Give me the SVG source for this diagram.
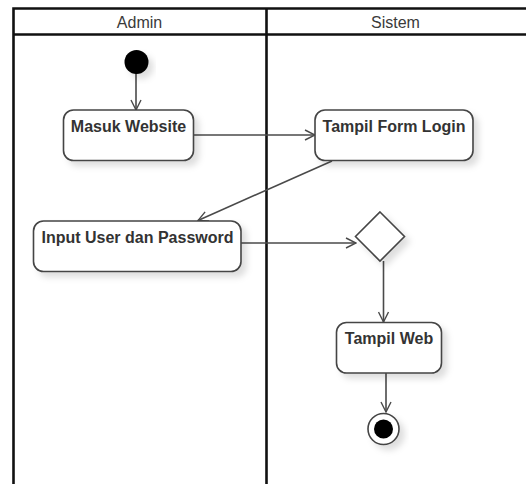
<svg xmlns="http://www.w3.org/2000/svg" width="526" height="484" viewBox="0 0 526 484">
<style>
.frame{fill:none;stroke:#111;stroke-width:2.6}
.lbl{font-family:"Liberation Sans",Arial,sans-serif;font-size:16px;fill:#3a3a3a;text-anchor:middle}
.act{fill:#fff;stroke:#444;stroke-width:1.6}
.txt{font-family:"Liberation Sans",Arial,sans-serif;font-size:16px;font-weight:bold;fill:#333;text-anchor:middle}
.edge{fill:none;stroke:#4a4a4a;stroke-width:1.6;marker-end:url(#arr)}
</style>
<defs>
<marker id="arr" viewBox="0 0 12 12" refX="11" refY="6" markerWidth="12" markerHeight="12" markerUnits="userSpaceOnUse" orient="auto">
<path d="M1,1 L11,6 L1,11" fill="none" stroke="#4a4a4a" stroke-width="1.4"/>
</marker>
<filter id="sh" x="-20%" y="-20%" width="150%" height="160%">
<feDropShadow dx="5" dy="5" stdDeviation="3" flood-color="#000" flood-opacity="0.13"/>
</filter>
</defs>
<rect width="526" height="484" fill="#fff"/>
<g id="swimlanes">
<path class="frame" d="M13.5,484 V8.5 H526 M13.5,34.5 H526 M266.5,8.5 V484"/>
<text class="lbl" x="139.5" y="28">Admin</text>
<text class="lbl" x="395.5" y="28">Sistem</text>
</g>
<g id="connectors">
<path class="edge" d="M136,72 V110"/>
<path class="edge" d="M193,135 H315"/>
<path class="edge" d="M332,161 L198,220.5"/>
<path class="edge" d="M241,243 H356"/>
<path class="edge" d="M383.5,261 V322"/>
<path class="edge" d="M386,373 V412"/>
</g>
<g id="start">
<circle cx="136.5" cy="62" r="12" fill="#000" filter="url(#sh)"/>
</g>
<g id="masuk-website">
<rect class="act" x="63.5" y="110" width="130" height="50.5" rx="10" filter="url(#sh)"/>
<text class="txt" x="128.5" y="132">Masuk Website</text>
</g>
<g id="tampil-form-login">
<rect class="act" x="315" y="110" width="158" height="50.5" rx="10" filter="url(#sh)"/>
<text class="txt" x="394" y="132">Tampil Form Login</text>
</g>
<g id="input-user">
<rect class="act" x="33.5" y="221" width="207.5" height="50.5" rx="10" filter="url(#sh)"/>
<text class="txt" x="137.5" y="243">Input User dan Password</text>
</g>
<g id="decision">
<path class="act" d="M380,212 L404.5,236.5 L380,261 L355.5,236.5 Z" filter="url(#sh)"/>
</g>
<g id="tampil-web">
<rect class="act" x="336.5" y="322.5" width="105" height="50.5" rx="10" filter="url(#sh)"/>
<text class="txt" x="389" y="344">Tampil Web</text>
</g>
<g id="end">
<circle cx="383.5" cy="429" r="15.5" fill="#fff" stroke="#444" stroke-width="1.6" filter="url(#sh)"/>
<circle cx="383.5" cy="429" r="9.5" fill="#000"/>
</g>
</svg>
